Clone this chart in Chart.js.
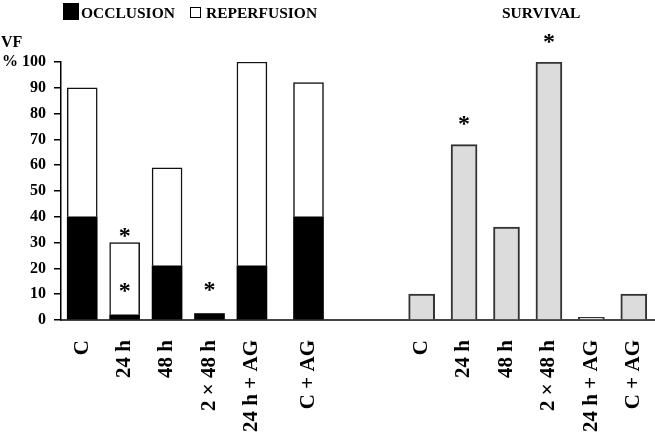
<!DOCTYPE html>
<html>
<head>
<meta charset="utf-8">
<script src="https://cdn.jsdelivr.net/npm/chart.js@4/dist/chart.umd.min.js"></script>
<style>
  html, body { margin: 0; padding: 0; background: #fff; }
  #wrap { width: 655px; height: 437px; position: relative; }
</style>
</head>
<body>
<div id="wrap"><canvas id="vf"></canvas></div>
<script>
// values
const groups = ["C", "24 h", "48 h", "2 × 48 h", "24 h + AG", "C + AG"];
const occlusion = [40, 2, 21, 2.5, 21, 40];
const reperfusion = [50, 28, 38, null, 79, 52];
const survival = [10, 68, 36, 100, 1, 10];
const yTicks = [0, 10, 20, 30, 40, 50, 60, 70, 80, 90, 100];
// asterisks: [group index, height in %]
const vfStars = [[1, 34], [1, 12.5], [3, 12.8]];
const survivalStars = [[1, 77.5], [3, 109]];

// layout: narrow category slots so the two panels sit like in the figure
const slotCount = 42;
const vfSlots = [1, 4, 7, 10, 13, 17];
const survivalSlots = [25, 28, 31, 34, 37, 40];

const FONT = "'Liberation Serif', 'Times New Roman', serif";

function spread(slots, values)
{
  const out = new Array(slotCount).fill(null);
  slots.forEach((s, i) => { out[s] = values[i]; });
  return out;
}

const labels = new Array(slotCount).fill("");
vfSlots.forEach((s, i) => { labels[s] = groups[i]; });
survivalSlots.forEach((s, i) => { labels[s] = groups[i]; });

const textPlugin = {
  id: "figureText",
  afterDraw(chart) {
    const ctx = chart.ctx;
    const xs = chart.scales.x, ys = chart.scales.y;
    ctx.save();
    ctx.fillStyle = "#000";
    ctx.textBaseline = "alphabetic";
    ctx.textAlign = "left";

    // legend
    ctx.font = "bold 15.5px " + FONT;
    ctx.fillRect(63, 3, 16, 17);
    ctx.fillText("OCCLUSION", 81, 18);
    ctx.strokeStyle = "#000";
    ctx.lineWidth = 1;
    ctx.strokeRect(190.5, 7.5, 10, 10);
    ctx.fillText("REPERFUSION", 206, 18);
    ctx.fillText("SURVIVAL", 502, 18);

    // axis title
    ctx.font = "bold 16px " + FONT;
    ctx.fillText("VF", 1, 47);

    // asterisks
    ctx.font = "bold 24px " + FONT;
    ctx.textAlign = "center";
    const m = ctx.measureText("*");
    const mid = (m.actualBoundingBoxAscent - m.actualBoundingBoxDescent) / 2;
    const drawStar = (slot, v) => {
      ctx.fillText("*", xs.getPixelForValue(slot), ys.getPixelForValue(v) + mid);
    };
    vfStars.forEach(([g, v]) => drawStar(vfSlots[g], v));
    survivalStars.forEach(([g, v]) => drawStar(survivalSlots[g], v));
    ctx.restore();
  }
};

const chart = new Chart("vf", {
  type: "bar",
  data: {
    labels: labels,
    datasets: [
      {
        label: "OCCLUSION",
        data: spread(vfSlots, occlusion),
        backgroundColor: "#000",
        borderColor: "#000",
        borderWidth: 0,
        barThickness: 30,
        stack: "s"
      },
      {
        label: "REPERFUSION",
        data: spread(vfSlots, reperfusion),
        backgroundColor: "#fff",
        borderColor: "#111",
        borderWidth: 1.5,
        borderSkipped: "bottom",
        barThickness: 30,
        stack: "s"
      },
      {
        label: "SURVIVAL",
        data: spread(survivalSlots, survival),
        backgroundColor: "#dcdcdc",
        borderColor: "#333",
        borderWidth: 2,
        borderSkipped: "bottom",
        barThickness: 26,
        stack: "s"
      }
    ]
  },
  options: {
    responsive: true,
    maintainAspectRatio: false,
    animation: false,
    layout: { padding: { top: 62, right: 0, left: 0, bottom: 0 } },
    plugins: {
      legend: { display: false },
      tooltip: { enabled: false }
    },
    scales: {
      x: {
        stacked: true,
        grid: { display: false },
        border: { display: true, color: "#444", width: 2 },
        ticks: {
          autoSkip: false,
          minRotation: 90,
          maxRotation: 90,
          padding: 12,
          color: "#000",
          font: { family: FONT, size: 21, weight: "bold" }
        },
        afterFit(s) {
          s.height = 117;
          s.paddingLeft = 0;
          s.paddingRight = 0;
        }
      },
      y: {
        stacked: true,
        min: 0,
        max: 100,
        afterBuildTicks(s) {
          s.ticks = yTicks.map(v => ({ value: v }));
        },
        grid: {
          drawOnChartArea: false,
          drawTicks: true,
          tickLength: 7,
          color: "#000",
          lineWidth: 1.5
        },
        border: { display: true, color: "#000", width: 1.5 },
        ticks: {
          padding: 8,
          color: "#000",
          font: { family: FONT, size: 16, weight: "bold" },
          callback: v => (v === 100 ? "% 100" : String(v))
        },
        afterFit(s) {
          s.width = 61;
        }
      }
    }
  },
  plugins: [textPlugin]
});
</script>
</body>
</html>
